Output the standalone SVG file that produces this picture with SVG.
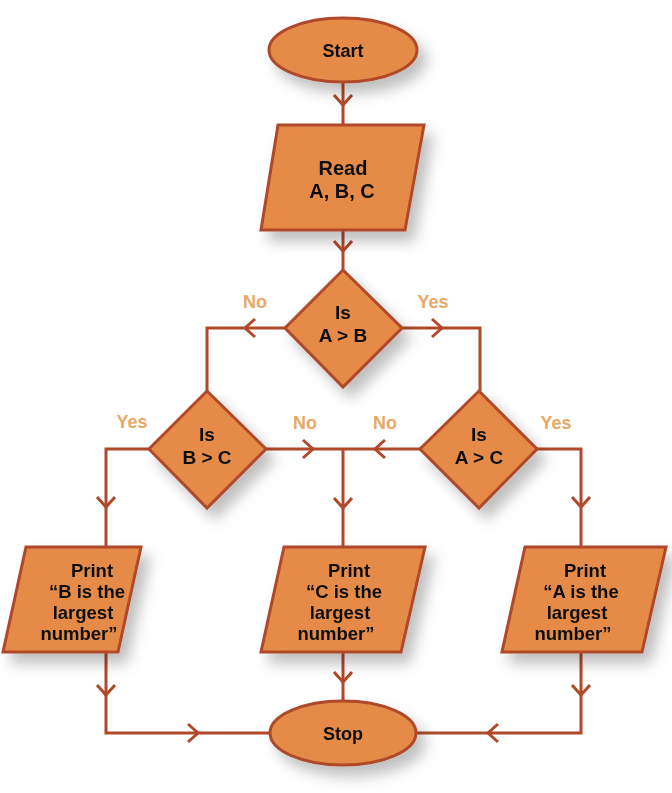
<svg xmlns="http://www.w3.org/2000/svg" width="672" height="793" viewBox="0 0 672 793">
<defs>
<filter id="sh" x="-30%" y="-30%" width="170%" height="170%">
<feDropShadow dx="8" dy="10" stdDeviation="7" flood-color="#000" flood-opacity="0.25"/>
</filter>
<style>
.shape{fill:#E68B47;stroke:#B0492A;stroke-width:3;stroke-linejoin:miter}
.line{fill:none;stroke:#B0492A;stroke-width:3}
.chev{fill:none;stroke:#B0492A;stroke-width:3;stroke-linejoin:miter}
.t{font-family:"Liberation Sans","Open Sans",sans-serif;font-weight:bold;fill:#111;text-anchor:middle}
.lbl{font-family:"Liberation Sans","Open Sans",sans-serif;font-weight:bold;fill:#E9A866;text-anchor:middle;font-size:18px}
</style>
</defs>
<rect width="672" height="793" fill="#fff"/>
<g id="connectors">
<path class="line" d="M343 82V125"/>
<path class="chev" d="M334 95L343 105L352 95"/>
<path class="line" d="M343 230V270"/>
<path class="chev" d="M334 241L343 251L352 241"/>
<path class="line" d="M285 328H207V391"/>
<path class="chev" d="M255 319L245 328L255 337"/>
<path class="line" d="M402 328H480V391"/>
<path class="chev" d="M432 319L442 328L432 337"/>
<path class="line" d="M149 449H106V547"/>
<path class="chev" d="M97 497L106 507L115 497"/>
<path class="line" d="M537 449H581V547"/>
<path class="chev" d="M572 497L581 507L590 497"/>
<path class="line" d="M266 449H420"/>
<path class="line" d="M343 449V547"/>
<path class="chev" d="M303 440L313 449L303 458"/>
<path class="chev" d="M385 440L375 449L385 458"/>
<path class="chev" d="M334 498L343 508L352 498"/>
<path class="line" d="M106 652V733H271"/>
<path class="chev" d="M97 685L106 695L115 685"/>
<path class="chev" d="M188 724L198 733L188 742"/>
<path class="line" d="M343 652V701"/>
<path class="chev" d="M334 672L343 682L352 672"/>
<path class="line" d="M581 652V733H415"/>
<path class="chev" d="M572 685L581 695L590 685"/>
<path class="chev" d="M498 724L488 733L498 742"/>
</g>
<g id="start" filter="url(#sh)">
<ellipse class="shape" cx="343" cy="50" rx="74" ry="32"/>
<text class="t" x="343" y="57" font-size="18">Start</text>
</g>
<g id="read" filter="url(#sh)">
<polygon class="shape" points="278,125 424,125 405,230 261,230"/>
<text class="t" x="343" y="175" font-size="20">Read</text>
<text class="t" x="342" y="198" font-size="20">A, B, C</text>
</g>
<g id="dec-ab" filter="url(#sh)">
<polygon class="shape" points="343,270 402,328 343,387 285,328"/>
<text class="t" x="343" y="319" font-size="19">Is</text>
<text class="t" x="343" y="342" font-size="19">A &gt; B</text>
</g>
<g id="dec-bc" filter="url(#sh)">
<polygon class="shape" points="207,391 266,449 207,508 149,449"/>
<text class="t" x="207" y="441" font-size="19">Is</text>
<text class="t" x="207" y="464" font-size="19">B &gt; C</text>
</g>
<g id="dec-ac" filter="url(#sh)">
<polygon class="shape" points="479,391 537,449 479,508 420,449"/>
<text class="t" x="479" y="441" font-size="19">Is</text>
<text class="t" x="479" y="464" font-size="19">A &gt; C</text>
</g>
<g id="labels">
<text class="lbl" x="255" y="308">No</text>
<text class="lbl" x="433" y="308">Yes</text>
<text class="lbl" x="132" y="428">Yes</text>
<text class="lbl" x="305" y="429">No</text>
<text class="lbl" x="385" y="429">No</text>
<text class="lbl" x="556" y="429">Yes</text>
</g>
<g id="print-b" filter="url(#sh)">
<polygon class="shape" points="26,547 141,547 118,652 3,652"/>
<text class="t" x="92" y="577" font-size="18.5">Print</text>
<text class="t" x="87" y="598" font-size="18.5">“B is the</text>
<text class="t" x="83" y="619" font-size="18.5">largest</text>
<text class="t" x="79" y="640" font-size="18.5">number”</text>
</g>
<g id="print-c" filter="url(#sh)">
<polygon class="shape" points="284,547 425,547 401,652 261,652"/>
<text class="t" x="349" y="577" font-size="18.5">Print</text>
<text class="t" x="344" y="598" font-size="18.5">“C is the</text>
<text class="t" x="340" y="619" font-size="18.5">largest</text>
<text class="t" x="336" y="640" font-size="18.5">number”</text>
</g>
<g id="print-a" filter="url(#sh)">
<polygon class="shape" points="525,547 666,547 642,652 502,652"/>
<text class="t" x="585" y="577" font-size="18.5">Print</text>
<text class="t" x="581" y="598" font-size="18.5">“A is the</text>
<text class="t" x="577" y="619" font-size="18.5">largest</text>
<text class="t" x="573" y="640" font-size="18.5">number”</text>
</g>
<g id="stop" filter="url(#sh)">
<ellipse class="shape" cx="343" cy="733" rx="73" ry="32"/>
<text class="t" x="343" y="740" font-size="18">Stop</text>
</g>
</svg>
